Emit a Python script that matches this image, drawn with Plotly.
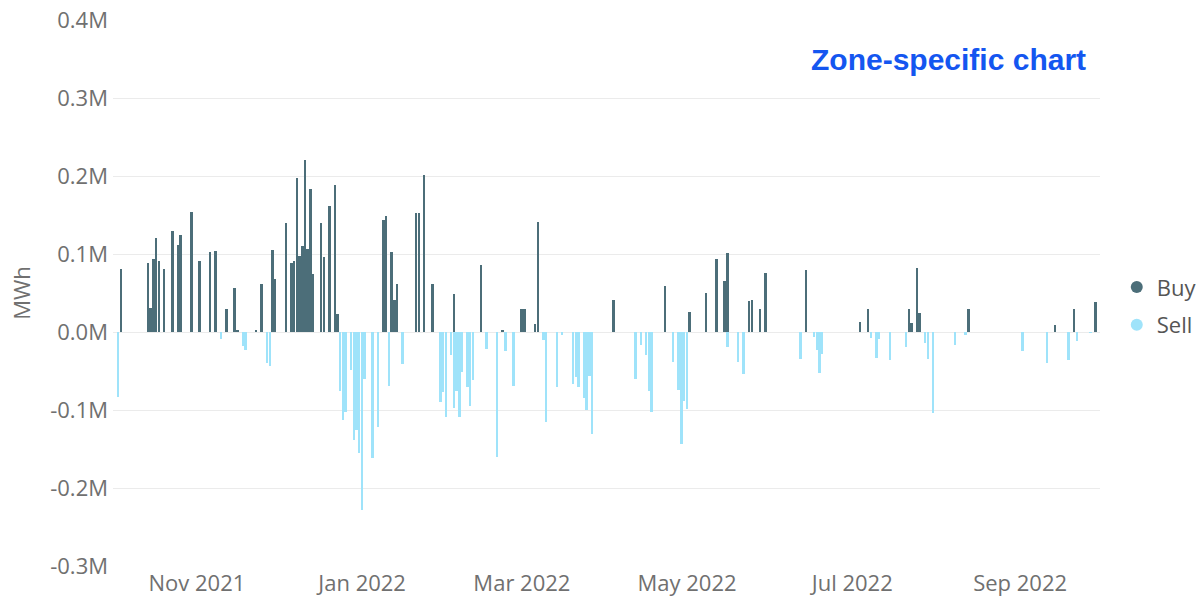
import plotly.graph_objects as go

buy_dates = [
    "2021-10-04", "2021-10-14", "2021-10-15", "2021-10-16", "2021-10-17", "2021-10-18",
    "2021-10-20", "2021-10-23", "2021-10-25", "2021-10-26", "2021-10-30", "2021-11-02",
    "2021-11-06", "2021-11-08", "2021-11-12", "2021-11-15", "2021-11-16", "2021-11-23",
    "2021-11-25", "2021-11-29", "2021-11-30", "2021-12-04", "2021-12-06", "2021-12-07",
    "2021-12-08", "2021-12-09", "2021-12-10", "2021-12-11", "2021-12-12", "2021-12-13",
    "2021-12-14", "2021-12-17", "2021-12-18", "2021-12-20", "2021-12-22", "2021-12-23",
    "2022-01-09", "2022-01-10", "2022-01-12", "2022-01-13", "2022-01-14", "2022-01-21",
    "2022-01-22", "2022-01-24", "2022-01-27", "2022-02-04", "2022-02-14", "2022-02-22",
    "2022-03-01", "2022-03-02", "2022-03-06", "2022-03-07", "2022-04-04", "2022-04-23",
    "2022-05-02", "2022-05-08", "2022-05-12", "2022-05-15", "2022-05-16", "2022-05-24",
    "2022-05-25", "2022-05-28", "2022-05-30", "2022-06-14", "2022-07-04", "2022-07-07",
    "2022-07-22", "2022-07-23", "2022-07-25", "2022-07-26", "2022-08-13", "2022-09-14",
    "2022-09-21", "2022-09-29",
]
buy_values = [
    0.081, 0.088, 0.031, 0.093, 0.121, 0.091,
    0.081, 0.130, 0.111, 0.125, 0.154, 0.091,
    0.102, 0.104, 0.029, 0.057, 0.002, 0.003,
    0.061, 0.105, 0.068, 0.140, 0.089, 0.091,
    0.198, 0.098, 0.110, 0.221, 0.106, 0.183,
    0.075, 0.140, 0.096, 0.161, 0.189, 0.023,
    0.143, 0.149, 0.103, 0.041, 0.061, 0.153,
    0.153, 0.201, 0.061, 0.049, 0.086, 0.002,
    0.030, 0.030, 0.010, 0.141, 0.041, 0.059,
    0.026, 0.050, 0.093, 0.065, 0.101, 0.040,
    0.041, 0.030, 0.076, 0.080, 0.013, 0.029,
    0.030, 0.011, 0.082, 0.025, 0.030, 0.009,
    0.030, 0.039,
]

sell_dates = [
    "2021-10-03", "2021-11-10", "2021-11-18", "2021-11-19", "2021-11-27", "2021-11-28",
    "2021-12-24", "2021-12-25", "2021-12-26", "2021-12-28", "2021-12-29", "2021-12-30",
    "2021-12-31", "2022-01-01", "2022-01-02", "2022-01-05", "2022-01-07", "2022-01-11",
    "2022-01-16", "2022-01-30", "2022-01-31", "2022-02-01", "2022-02-03", "2022-02-04",
    "2022-02-05", "2022-02-06", "2022-02-07", "2022-02-09", "2022-02-10", "2022-02-11",
    "2022-02-16", "2022-02-20", "2022-02-23", "2022-02-26", "2022-03-09", "2022-03-10",
    "2022-03-14", "2022-03-16", "2022-03-20", "2022-03-21", "2022-03-22", "2022-03-24",
    "2022-03-25", "2022-03-26", "2022-03-27", "2022-04-12", "2022-04-14", "2022-04-16",
    "2022-04-17", "2022-04-18", "2022-04-26", "2022-04-28", "2022-04-29", "2022-04-30",
    "2022-05-01", "2022-05-16", "2022-05-20", "2022-05-22", "2022-06-12", "2022-06-17",
    "2022-06-18", "2022-06-19", "2022-06-20", "2022-07-08", "2022-07-10", "2022-07-11",
    "2022-07-15", "2022-07-21", "2022-07-28", "2022-07-29", "2022-07-31", "2022-08-08",
    "2022-08-12", "2022-09-02", "2022-09-11", "2022-09-19", "2022-09-22", "2022-09-27",
]
sell_values = [
    -0.083, -0.009, -0.018, -0.023, -0.040, -0.043,
    -0.075, -0.113, -0.103, -0.049, -0.138, -0.126,
    -0.155, -0.228, -0.060, -0.162, -0.122, -0.069,
    -0.041, -0.090, -0.077, -0.109, -0.029, -0.097,
    -0.075, -0.109, -0.051, -0.070, -0.095, -0.061,
    -0.022, -0.160, -0.024, -0.069, -0.010, -0.116,
    -0.070, -0.004, -0.067, -0.058, -0.070, -0.085,
    -0.100, -0.056, -0.131, -0.060, -0.017, -0.030,
    -0.075, -0.102, -0.039, -0.074, -0.143, -0.089,
    -0.099, -0.019, -0.039, -0.054, -0.035, -0.006,
    -0.023, -0.053, -0.028, -0.008, -0.033, -0.009,
    -0.036, -0.019, -0.014, -0.035, -0.104, -0.017,
    -0.004, -0.024, -0.040, -0.036, -0.011, -0.001,
]

y_ticks = [-0.3, -0.2, -0.1, 0.0, 0.1, 0.2, 0.3, 0.4]
y_tick_text = ["-0.3M", "-0.2M", "-0.1M", "0.0M", "0.1M", "0.2M", "0.3M", "0.4M"]

BUY_COLOR = "#4C6E79"
SELL_COLOR = "#9FE3FA"
DAY_MS = 86400000
FONT = "Open Sans"
TICK_COLOR = "#707070"

fig = go.Figure()
fig.add_trace(go.Bar(x=buy_dates, y=buy_values, name="Buy", marker_color=BUY_COLOR,
                     marker_line_width=0, width=0.72 * DAY_MS, showlegend=False))
fig.add_trace(go.Bar(x=sell_dates, y=sell_values, name="Sell", marker_color=SELL_COLOR,
                     marker_line_width=0, width=0.72 * DAY_MS, showlegend=False))
# legend entries with round markers
fig.add_trace(go.Scatter(x=[None], y=[None], mode="markers", name="Buy", legendgroup="buy",
                         marker=dict(symbol="circle", size=15, color=BUY_COLOR)))
fig.add_trace(go.Scatter(x=[None], y=[None], mode="markers", name="Sell", legendgroup="sell",
                         marker=dict(symbol="circle", size=15, color=SELL_COLOR)))

fig.update_layout(
    width=1199, height=598,
    margin=dict(l=113, r=99, t=20, b=32, autoexpand=False),
    paper_bgcolor="white", plot_bgcolor="white",
    barmode="relative", bargap=0,
    font=dict(family=FONT, color=TICK_COLOR, size=22),
    legend=dict(x=1.017, y=0.549, xanchor="left", yanchor="top",
                font=dict(size=22, color="#555555"), itemsizing="constant",
                itemwidth=30, tracegroupgap=6, traceorder="grouped",
                bgcolor="rgba(0,0,0,0)"),
    annotations=[dict(text="<b>Zone-specific chart</b>", xref="paper", yref="paper",
                      x=0.988, y=0.927, xanchor="right", yanchor="middle", showarrow=False,
                      font=dict(family="Liberation Sans", size=30, color="#1456F0"))],
)
fig.update_xaxes(
    type="date", range=["2021-10-01", "2022-09-30 12:00"],
    tick0="2021-11-01", dtick="M2", tickformat="%b %Y",
    showgrid=False, zeroline=False, showline=False, ticks="", automargin=False,
    ticklabelstandoff=2,
    tickfont=dict(size=22, color=TICK_COLOR),
)
fig.update_yaxes(
    range=[-0.3, 0.4], tickvals=y_ticks, ticktext=y_tick_text,
    showgrid=True, gridcolor="#EBEBEB", gridwidth=1,
    zeroline=True, zerolinecolor="#EBEBEB", zerolinewidth=1,
    ticks="", ticklabelstandoff=4, automargin=False,
    tickfont=dict(size=22, color=TICK_COLOR),
    title=dict(text="MWh", font=dict(size=22, color=TICK_COLOR), standoff=13),
)

fig.write_html("out.html", config={"displayModeBar": False},
               post_script="document.body.style.margin='0px';")
